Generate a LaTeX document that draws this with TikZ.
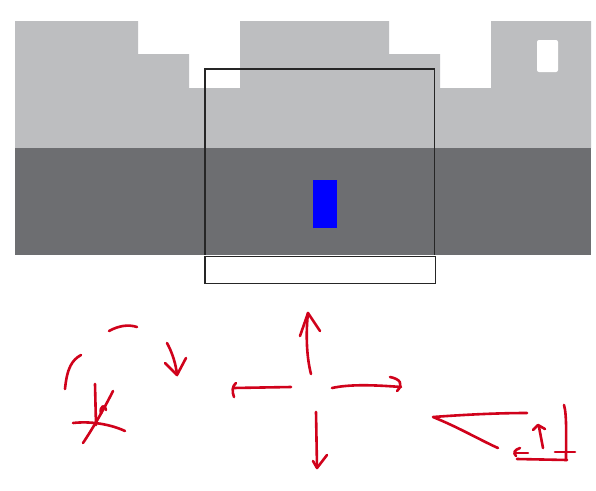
\documentclass[tikz,border=0pt]{standalone}
\definecolor{lightbldg}{HTML}{BDBEC0}
\definecolor{darkbldg}{HTML}{6D6E71}
\definecolor{ink}{HTML}{D0021B}
\begin{document}
\begin{tikzpicture}[x=1pt,y=-1pt,
  sketch/.style={draw=ink, line width=2.6pt, line cap=round, line join=round},
  frame/.style={draw=black!85, line width=1.1pt}]
\useasboundingbox[fill=white] (0,0) rectangle (596,490);
% skyline
\fill[lightbldg] (15,21) -- (138,21) -- (138,54) -- (189,54) -- (189,88) -- (240,88) -- (240,21)
  -- (389,21) -- (389,54) -- (440,54) -- (440,88) -- (491,88) -- (491,21) -- (591,21)
  -- (591,148) -- (15,148) -- cycle;
\fill[white, rounded corners=2pt] (537,40) rectangle (558,72);
\fill[darkbldg] (15,148) rectangle (591,254.6);
\fill[blue] (313,180) rectangle (337,228);
% frames
\draw[frame] (205,255) -- (205,69) -- (434.8,69) -- (434.8,255);
\draw[frame] (205,256.5) rectangle (435.6,283.5);
% sketch 1: rotate gesture
\draw[sketch] (109,331) .. controls (118,326) and (128,324) .. (137,327);
\draw[sketch] (81,355) .. controls (72,360) and (67,368) .. (65,389);
\draw[sketch] (167,343) .. controls (172,352) and (176,364) .. (177,375);
\draw[sketch] (165,363) -- (177,375) -- (186,358);
\draw[sketch] (95,384) -- (96,425);
\draw[sketch] (113,391) .. controls (106,405) and (95,425) .. (83,443);
\draw[sketch] (73,423) .. controls (90,421) and (110,424) .. (125,431);
\draw[sketch] (101,414) .. controls (99,405) and (106,404) .. (106,410);
% sketch 2: four arrows
\draw[sketch] (311,374) .. controls (306,355) and (306,330) .. (308,313);
\draw[sketch] (300,336) -- (308,313) -- (320,331);
\draw[sketch] (291,387) -- (233,388);
\draw[sketch] (236,383) .. controls (232,386) and (232,392) .. (234,397);
\draw[sketch] (332,388) .. controls (350,384) and (375,385) .. (401,387);
\draw[sketch] (390,377) .. controls (400,379) and (404,384) .. (397,391);
\draw[sketch] (316,412) -- (317,467);
\draw[sketch] (313,461) -- (317,468) -- (327,455);
% sketch 3: wedge and corner
\draw[sketch] (527,413) .. controls (495,413) and (460,415) .. (433,417) .. controls (460,428) and (480,440) .. (498,448);
\draw[sketch] (543,448) -- (539,427);
\draw[sketch] (533,430) -- (538,425) -- (545,429);
\draw[sketch] (564,405) .. controls (567,415) and (566,440) .. (566,460);
\draw[sketch] (517,459) -- (567,460);
\draw[sketch] (520,448) .. controls (514,450) and (513,453) .. (516,456);
\draw[sketch] (515,453) -- (528,453);
\draw[sketch] (555,452) -- (575,452);
\end{tikzpicture}
\end{document}
